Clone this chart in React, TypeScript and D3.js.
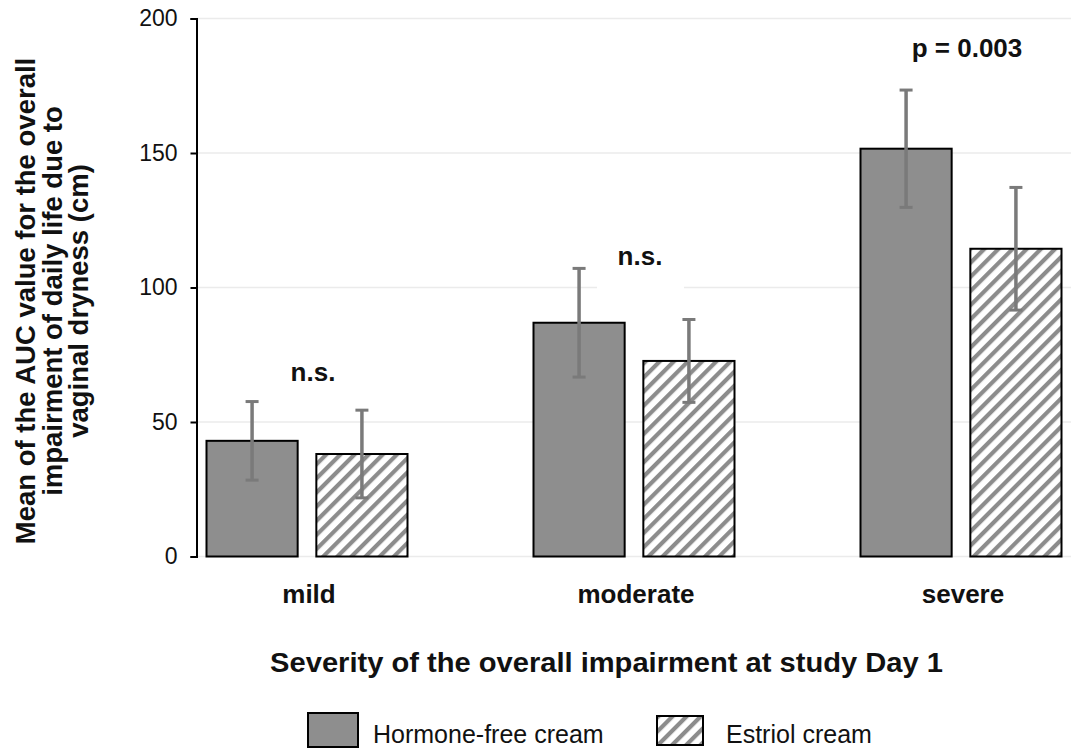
import * as d3 from 'd3';
import React, { useRef, useEffect } from 'react';

const width = 1071;
const height = 748;
const font = '"Liberation Sans", Arial, Helvetica, sans-serif';

const categories = ['mild', 'moderate', 'severe'];
const seriesNames = ['Hormone-free cream', 'Estriol cream'];
const hormoneFree = [43.0, 86.9, 151.6];
const hormoneFreeErr = [14.6, 20.2, 21.8];
const estriol = [38.1, 72.7, 114.4];
const estriolErr = [16.3, 15.4, 22.8];
const yTicks = [0, 50, 100, 150, 200];
const annotations = ['n.s.', 'n.s.', 'p = 0.003'];
const annotationY = [65.2, 108.4, 185.8];

const yTitle = ['Mean of the AUC value for the overall', 'impairment of daily life due to', 'vaginal dryness (cm)'];
const xTitle = 'Severity of the overall impairment at study Day 1';

const barFill = '#8e8e8e';
const errColor = '#7a7a7a';

function App() {
  const ref = useRef<SVGSVGElement>(null);

  useEffect(() => {
    draw();
  }, []); // eslint-disable-line react-hooks/exhaustive-deps

  const draw = () => {
    const svg = d3.select(ref.current);
    svg.selectAll('*').remove();

    const yScale = d3.scaleLinear().domain([0, 200]).range([556.5, 18.5]);
    const x0 = d3.scalePoint<string>().domain(categories).range([307, 961]);
    const x1 = d3.scaleBand<string>().domain(seriesNames).range([-100.5, 100.5]).paddingInner(0.17);

    // hatch pattern for estriol bars
    const defs = svg.append('defs');
    const pat = defs
      .append('pattern')
      .attr('id', 'hatch')
      .attr('patternUnits', 'userSpaceOnUse')
      .attr('width', 10)
      .attr('height', 10)
      .attr('patternTransform', 'rotate(45)');
    pat.append('rect').attr('width', 10).attr('height', 10).attr('fill', '#fff');
    pat.append('rect').attr('width', 4.2).attr('height', 10).attr('fill', '#8c8c8c');

    // grid lines
    svg
      .append('g')
      .selectAll('line')
      .data(yTicks)
      .enter()
      .append('line')
      .attr('x1', 196.5)
      .attr('x2', width)
      .attr('y1', (d) => yScale(d))
      .attr('y2', (d) => yScale(d))
      .attr('stroke', '#ebebeb')
      .attr('stroke-width', 1.5);

    // y axis
    const yAxis = d3.axisLeft(yScale).tickValues(yTicks).tickSize(6).tickPadding(13);
    const ya = svg.append('g').attr('transform', 'translate(196.5, 0)').call(yAxis);
    ya.select('.domain').attr('stroke', '#000').attr('stroke-width', 2);
    ya.selectAll('.tick line').attr('stroke', '#000').attr('stroke-width', 2);
    ya.selectAll('.tick text')
      .attr('font-family', font)
      .attr('font-size', 23)
      .attr('fill', '#111');

    // bars
    const rows = categories.map((c, i) => [
      { cat: c, s: seriesNames[0], v: hormoneFree[i], e: hormoneFreeErr[i] },
      { cat: c, s: seriesNames[1], v: estriol[i], e: estriolErr[i] },
    ]).flat();

    svg
      .append('g')
      .selectAll('rect')
      .data(rows)
      .enter()
      .append('rect')
      .attr('x', (d) => (x0(d.cat) as number) + (x1(d.s) as number))
      .attr('y', (d) => yScale(d.v))
      .attr('width', x1.bandwidth())
      .attr('height', (d) => yScale(0) - yScale(d.v))
      .attr('fill', (d) => (d.s === seriesNames[0] ? barFill : 'url(#hatch)'))
      .attr('stroke', '#000')
      .attr('stroke-width', 2);

    // error bars
    const eg = svg.append('g').attr('stroke', errColor).attr('stroke-width', 3.5);
    rows.forEach((d) => {
      const cx = (x0(d.cat) as number) + (x1(d.s) as number) + x1.bandwidth() / 2;
      const top = yScale(d.v + d.e);
      const bot = yScale(d.v - d.e);
      eg.append('line').attr('x1', cx).attr('x2', cx).attr('y1', top).attr('y2', bot);
      eg.append('line').attr('x1', cx - 6.5).attr('x2', cx + 6.5).attr('y1', top).attr('y2', top).attr('stroke-width', 3);
      eg.append('line').attr('x1', cx - 6.5).attr('x2', cx + 6.5).attr('y1', bot).attr('y2', bot).attr('stroke-width', 3);
    });

    // significance labels (white box breaks the grid)
    annotations.forEach((t, i) => {
      const cx = (x0(categories[i]) as number) + 6;
      const by = yScale(annotationY[i]);
      if (i === 1) {
        svg.append('rect').attr('x', cx - 43).attr('y', by + 10).attr('width', 87).attr('height', 16).attr('fill', '#fff');
      }
      svg
        .append('text')
        .attr('x', cx)
        .attr('y', by)
        .attr('text-anchor', 'middle')
        .attr('font-family', font)
        .attr('font-weight', 'bold')
        .attr('font-size', 26)
        .attr('fill', '#111')
        .text(t);
    });

    // category labels
    svg
      .append('g')
      .selectAll('text')
      .data(categories)
      .enter()
      .append('text')
      .attr('x', (d) => (x0(d) as number) + 2)
      .attr('y', 603)
      .attr('text-anchor', 'middle')
      .attr('font-family', font)
      .attr('font-weight', 'bold')
      .attr('font-size', 26)
      .attr('fill', '#111')
      .text((d) => d);

    // x axis title
    svg
      .append('text')
      .attr('transform', 'translate(606.5, 672) scale(1.04, 1)')
      .attr('text-anchor', 'middle')
      .attr('font-family', font)
      .attr('font-weight', 'bold')
      .attr('font-size', 28)
      .attr('fill', '#111')
      .text(xTitle);

    // y axis title
    const yt = svg
      .append('text')
      .attr('transform', 'translate(0, 301) rotate(-90)')
      .attr('text-anchor', 'middle')
      .attr('font-family', font)
      .attr('font-weight', 'bold')
      .attr('font-size', 27.5)
      .attr('fill', '#111');
    yTitle.forEach((l, i) => {
      yt.append('tspan').attr('x', 0).attr('y', 35 + i * 26.5).text(l);
    });

    // legend
    const lg = svg.append('g');
    lg.append('rect').attr('x', 308).attr('y', 713).attr('width', 50).attr('height', 34).attr('fill', barFill).attr('stroke', '#000').attr('stroke-width', 2);
    lg.append('text')
      .attr('x', 373)
      .attr('y', 743)
      .attr('font-family', font)
      .attr('font-size', 25)
      .attr('fill', '#111')
      .text(seriesNames[0]);
    lg.append('rect').attr('x', 657).attr('y', 716).attr('width', 46).attr('height', 29).attr('fill', 'url(#hatch)').attr('stroke', '#000').attr('stroke-width', 2);
    lg.append('text')
      .attr('x', 726)
      .attr('y', 743)
      .attr('font-family', font)
      .attr('font-size', 25)
      .attr('fill', '#111')
      .text(seriesNames[1]);
  };

  return (
    <svg ref={ref} width={width} height={height} style={{ position: 'absolute', left: 0, top: 0, background: '#fff' }} />
  );
}

export default App;
